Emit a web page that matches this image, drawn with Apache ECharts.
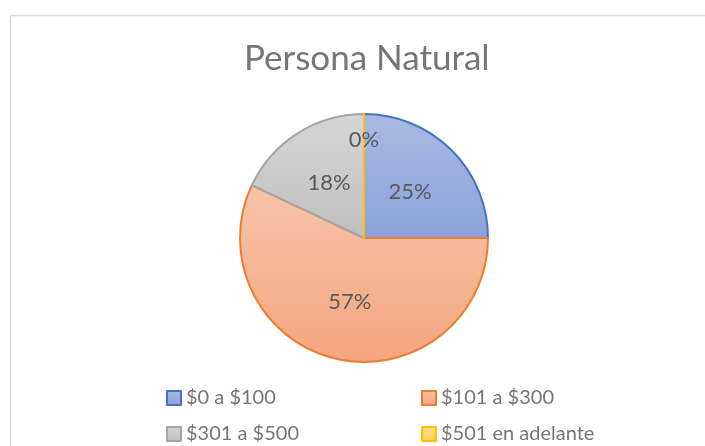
<!DOCTYPE html>
<html>
<head>
<meta charset="utf-8">
<script src="https://cdn.jsdelivr.net/npm/echarts@6/dist/echarts.min.js"></script>
<style>
  html, body { margin: 0; padding: 0; background: #fff; }
  #main { width: 705px; height: 446px; }
</style>
</head>
<body>
<div id="main"></div>
<script>
// datos del gráfico
const categories = ['$0 a $100', '$101 a $300', '$301 a $500', '$501 en adelante'];
const values = [25, 57, 18, 0];
const fills = [['#aab9e3', '#8aa3da'], ['#f7c4a9', '#f4a57f'], ['#d6d6d6', '#bfbfbf'], ['#ffe08a', '#ffd04d']];
const borders = ['#4472c4', '#ed7d31', '#a5a5a5', '#ffc000'];

const chartDom = document.getElementById('main');
const myChart = echarts.init(chartDom, null, { renderer: 'canvas' });

const font = 'Lato, "Open Sans", sans-serif';

const data = categories.map((name, i) => {
    const item = {
        name: name,
        value: values[i],
        itemStyle: {
            color: new echarts.graphic.LinearGradient(0, 0, 0, 1, [
                { offset: 0, color: fills[i][0] },
                { offset: 1, color: fills[i][1] }
            ]),
            borderColor: borders[i],
            borderWidth: 2
        }
    };
    // el 0% se sube con líneas vacías, como lo coloca Excel
    if (values[i] === 0) {
        item.label = { formatter: '{d}%\n\n\n', lineHeight: 22 };
    }
    return item;
});

// leyenda en dos columnas: un componente por elemento
const legendPos = [[161, 383], [416, 383], [161, 419], [416, 419]];
const legends = categories.map((name, i) => ({
    left: legendPos[i][0],
    top: legendPos[i][1],
    itemWidth: 14,
    itemHeight: 14,
    icon: 'rect',
    data: [name],
    textStyle: { fontFamily: font, fontSize: 20, color: '#767676' }
}));

const option = {
    animation: false,
    backgroundColor: '#fff',
    graphic: [{
        type: 'rect',
        shape: { x: 10.5, y: 15.5, width: 800, height: 500 },
        style: { fill: 'none', stroke: '#d9d9d9', lineWidth: 1.5 },
        silent: true
    }],
    title: {
        text: 'Persona Natural',
        left: 239,
        top: 36,
        textStyle: {
            fontFamily: font,
            fontSize: 35,
            fontWeight: 'normal',
            color: '#767676'
        }
    },
    legend: legends,
    series: [{
        type: 'pie',
        center: [364, 238],
        radius: 124,
        startAngle: 90,
        clockwise: true,
        avoidLabelOverlap: false,
        label: {
            show: true,
            position: 'inside',
            formatter: '{d}%',
            fontFamily: font,
            fontSize: 22,
            color: '#595959'
        },
        labelLayout: { hideOverlap: false },
        labelLine: { show: false },
        emphasis: { disabled: true },
        data: data
    }]
};

option && myChart.setOption(option);
</script>
</body>
</html>
